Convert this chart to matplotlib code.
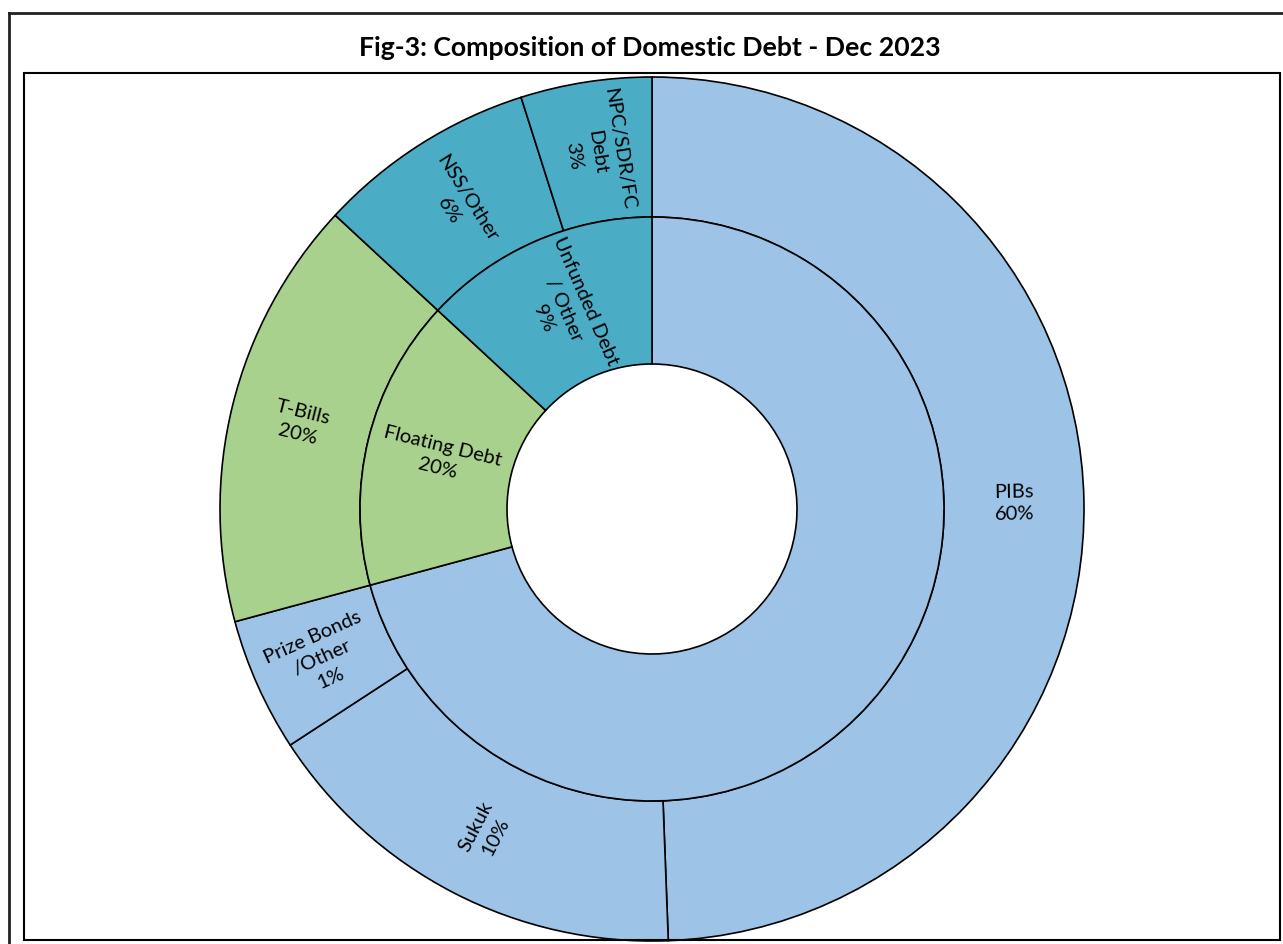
import numpy as np
import matplotlib
matplotlib.use("Agg")
import matplotlib.pyplot as plt
from matplotlib.lines import Line2D
from matplotlib.patches import Rectangle

plt.rcParams['font.family'] = ['Lato', 'DejaVu Sans']

# outer ring (share of the circle) and labels
outer_labels = ["PIBs\n60%", "Sukuk\n10%", "Prize Bonds\n/Other\n1%",
                "T-Bills\n20%", "NSS/Other\n6%", "NPC/SDR/FC\nDebt\n3%"]
outer_values = [49.4, 16.4, 5.0, 16.1, 8.2, 4.9]
outer_colors = ["#9DC3E6", "#9DC3E6", "#9DC3E6", "#A9D18E", "#4BACC6", "#4BACC6"]

# inner ring = parents
inner_labels = ["", "Floating Debt\n20%", "Unfunded Debt\n/ Other\n9%"]
inner_values = [outer_values[0] + outer_values[1] + outer_values[2],
                outer_values[3],
                outer_values[4] + outer_values[5]]
inner_colors = ["#9DC3E6", "#A9D18E", "#4BACC6"]

title = "Fig-3: Composition of Domestic Debt - Dec 2023"

W, H = 1283, 945
fig = plt.figure(figsize=(W / 100, H / 100), dpi=100)
ax = fig.add_axes([0, 0, 1, 1])

cx, cy = 652, H - 510
r_out, r_mid, r_in = 432, 292, 145
edge = dict(edgecolor="black", linewidth=1.2)

w_out, _ = ax.pie(outer_values, colors=outer_colors, radius=r_out, center=(cx, cy),
                  startangle=90, counterclock=False,
                  wedgeprops=dict(width=r_out - r_mid, **edge))
w_in, _ = ax.pie(inner_values, colors=inner_colors, radius=r_mid, center=(cx, cy),
                 startangle=90, counterclock=False,
                 wedgeprops=dict(width=r_mid - r_in, **edge))


def put_labels(wedges, labels, r0, r1):
    for w, lab in zip(wedges, labels):
        if not lab:
            continue
        phi = np.deg2rad((w.theta1 + w.theta2) / 2)
        rr = (r0 + r1) / 2
        x = cx + rr * np.cos(phi)
        y = cy + rr * np.sin(phi)
        rot = (np.rad2deg(phi) + 180) % 180
        if rot > 90:
            rot -= 180
        ax.text(x, y, lab, ha="center", va="center", multialignment="center",
                rotation=rot, rotation_mode="anchor", fontsize=14.5,
                linespacing=1.4, color="black")


put_labels(w_out, outer_labels, r_mid, r_out)
put_labels(w_in, inner_labels, r_in, r_mid)

# chart frames
ax.add_line(Line2D([9, 9], [0, H - 14], color="#222222", linewidth=2))
ax.add_line(Line2D([9, W], [H - 14, H - 14], color="#222222", linewidth=2))
ax.add_patch(Rectangle((23.5, 4.5), 1280 - 23.5, 940.5 - 74, fill=False,
                       edgecolor="black", linewidth=1.5))

ax.text(650, H - 48, title, ha="center", va="center", fontsize=19.2,
        fontweight="bold")

ax.set_xlim(0, W)
ax.set_ylim(0, H)
ax.set_aspect("equal")
ax.axis("off")

fig.savefig("out.png", dpi=100)
